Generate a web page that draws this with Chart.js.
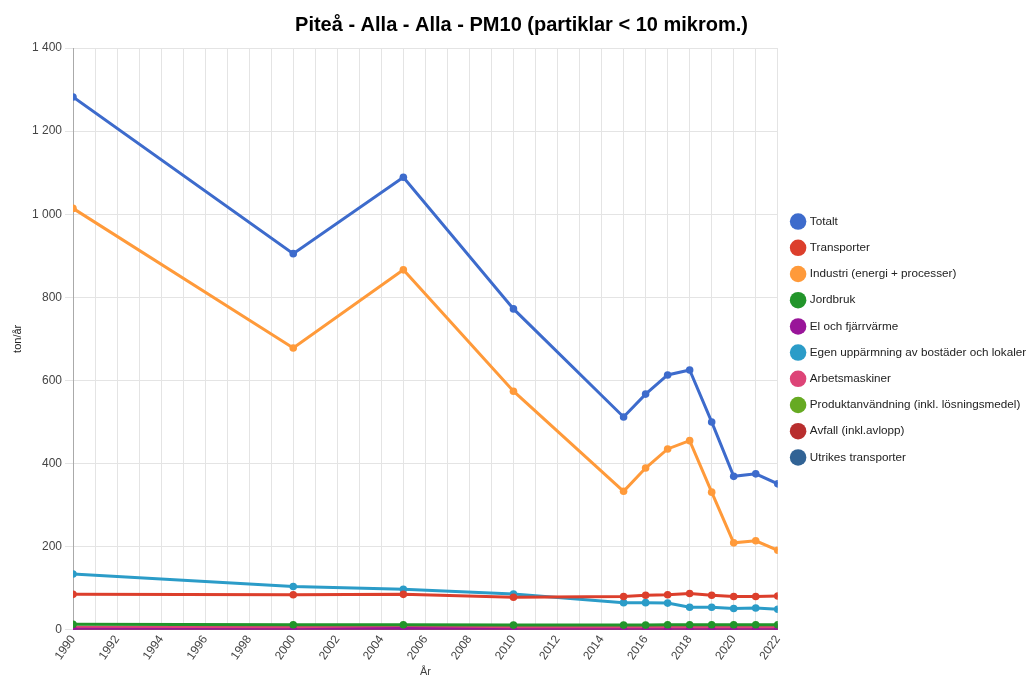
<!DOCTYPE html>
<html>
<head>
<meta charset="utf-8">
<script src="https://cdn.jsdelivr.net/npm/chart.js@4"></script>
<style>
html,body{margin:0;padding:0;background:#fff;}
#wrap{width:1027px;height:675px;}
</style>
</head>
<body>
<div id="wrap"><canvas id="c" width="1027" height="675"></canvas></div>
<script>
const years = [1990, 2000, 2005, 2010, 2015, 2016, 2017, 2018, 2019, 2020, 2021, 2022];
const totalt = [1282, 905, 1089, 772, 512, 567, 613, 625, 500, 369, 375, 351];
const transporter = [85, 84, 85, 78, 80, 83, 84, 87, 83, 80, 80, 81];
const industri = [1014, 678, 866, 574, 333, 389, 435, 455, 331, 209, 214, 191];
const jordbruk = [13, 12, 12, 11, 11, 11, 12, 12, 12, 12, 12, 12];
const elFjarrvarme = [1, 0, 3, 0, 0, 0, 0, 0, 0, 0, 0, 0];
const egenUppvarmning = [134, 104, 97, 86, 65, 65, 64, 54, 54, 51, 52, 49];
const arbetsmaskiner = [6, 5, 5, 5, 5, 5, 5, 5, 5, 5, 5, 5];
const produktanvandning = [1, 1, 2, 1, 1, 1, 1, 1, 1, 1, 1, 1];
const avfall = [0.5, 0.5, 0.5, 0.5, 0.5, 0.5, 0.5, 0.5, 0.5, 0.5, 0.5, 0.5];
const utrikes = [0, 0, 0, 0, 0, 0, 0, 0, 0, 0, 0, 0];
const yTicks = [0, 200, 400, 600, 800, 1000, 1200, 1400];

const seriesNames = ['Totalt','Transporter','Industri (energi + processer)','Jordbruk','El och fjärrvärme','Egen uppärmning av bostäder och lokaler','Arbetsmaskiner','Produktanvändning (inkl. lösningsmedel)','Avfall (inkl.avlopp)','Utrikes transporter'];
const seriesValues = [totalt, transporter, industri, jordbruk, elFjarrvarme, egenUppvarmning, arbetsmaskiner, produktanvandning, avfall, utrikes];
const colors = ['#3d6bcc','#dc3f2c','#ff9a3a','#22952a','#991599','#2b9cc8','#dd4477','#66aa22','#b82e2e','#316395'];

const datasets = seriesNames.map((name, i) => ({
  label: name,
  data: years.map((y, j) => ({x: y, y: seriesValues[i][j]})),
  borderColor: colors[i],
  backgroundColor: colors[i],
  borderWidth: 3,
  pointRadius: 3.8,
  pointHoverRadius: 5,
  pointBorderWidth: 0,
  tension: 0
}));

function fmt(v){ return String(v).replace(/\B(?=(\d{3})+(?!\d))/g, ' '); }
const FONT = 'Liberation Sans, Arial, sans-serif';

new Chart(document.getElementById('c'), {
  type: 'line',
  data: { datasets: datasets },
  options: {
    responsive: false,
    animation: false,
    layout: { padding: { left: 9, right: -7, top: 0, bottom: -4 } },
    plugins: {
      title: {
        display: true,
        text: 'Piteå - Alla - Alla - PM10 (partiklar < 10 mikrom.)',
        color: '#000',
        font: { family: FONT, size: 20, weight: 'bold' },
        padding: { top: 13, bottom: 11 }
      },
      legend: {
        position: 'right',
        labels: {
          usePointStyle: true,
          pointStyle: 'circle',
          boxWidth: 12,
          boxHeight: 12,
          padding: 14.5,
          color: '#222',
          font: { family: FONT, size: 11.7 }
        }
      },
      tooltip: { enabled: true }
    },
    scales: {
      x: {
        type: 'linear',
        min: 1990,
        max: 2022,
        title: { display: true, text: 'År', color: '#444', font: { family: FONT, size: 11 }, padding: 0 },
        ticks: {
          stepSize: 1,
          autoSkip: false,
          minRotation: 55,
          maxRotation: 55,
          color: '#444',
          font: { family: FONT, size: 12 },
          callback: (v) => (v % 2 === 0 ? String(v) : '')
        },
        grid: { color: '#e4e4e4', drawTicks: false },
        border: { display: false }
      },
      y: {
        min: 0,
        max: 1400,
        afterBuildTicks: (axis) => { axis.ticks = yTicks.map(v => ({value: v})); },
        afterFit: (axis) => { axis.width = 64; },
        title: { display: true, text: 'ton/år', color: '#222', font: { family: FONT, size: 11 }, padding: { top: 2, bottom: 4 } },
        ticks: {
          color: '#444',
          font: { family: FONT, size: 12 },
          callback: (v) => fmt(v)
        },
        grid: { color: '#e4e4e4', tickLength: 8 },
        border: { display: true, color: '#aaa' }
      }
    }
  }
});
</script>
</body>
</html>
